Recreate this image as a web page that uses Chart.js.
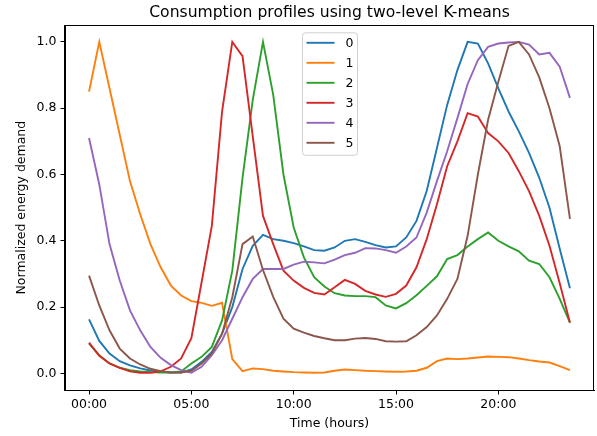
<!DOCTYPE html>
<html>
<head>
<meta charset="utf-8">
<script src="https://cdn.jsdelivr.net/npm/chart.js@4.4.1/dist/chart.umd.min.js"></script>
<style>
  html, body { margin: 0; padding: 0; background: #fff; }
  #wrap { width: 597px; height: 436px; }
</style>
</head>
<body>
<div id="wrap"><canvas id="c" width="597" height="436"></canvas></div>
<script>
// ---- data ----
const hours = [0,0.5,1,1.5,2,2.5,3,3.5,4,4.5,5,5.5,6,6.5,7,7.5,8,8.5,9,9.5,10,10.5,11,11.5,
               12,12.5,13,13.5,14,14.5,15,15.5,16,16.5,17,17.5,18,18.5,19,19.5,20,20.5,21,21.5,22,22.5,23,23.5];
const xTickValues = [0, 5, 10, 15, 20];
const xTickLabels = ['00:00', '05:00', '10:00', '15:00', '20:00'];
const yTickValues = [0, 0.2, 0.4, 0.6, 0.8, 1.0];
const seriesNames = ['0', '1', '2', '3', '4', '5'];
const seriesColors = ['#1f77b4', '#ff7f0e', '#2ca02c', '#d62728', '#9467bd', '#8c564b'];

const cluster0 = [0.163,0.098,0.060,0.037,0.024,0.015,0.009,0.005,0.003,0.003,0.012,0.035,0.065,0.120,0.200,0.315,0.385,0.418,
                  0.405,0.400,0.393,0.383,0.372,0.370,0.380,0.400,0.405,0.397,0.387,0.380,0.383,0.410,0.460,0.550,0.680,0.810,
                  0.915,1.000,0.995,0.935,0.860,0.790,0.730,0.665,0.590,0.500,0.376,0.257];
const cluster1 = [0.850,1.000,0.860,0.720,0.580,0.480,0.390,0.320,0.265,0.235,0.218,0.213,0.204,0.213,0.043,0.007,0.015,0.013,
                  0.008,0.006,0.004,0.003,0.002,0.003,0.008,0.012,0.010,0.008,0.007,0.006,0.005,0.006,0.008,0.017,0.037,0.045,
                  0.043,0.045,0.048,0.051,0.050,0.049,0.045,0.040,0.036,0.033,0.022,0.010];
const cluster2 = [0.090,0.055,0.030,0.017,0.010,0.006,0.004,0.003,0.003,0.006,0.030,0.050,0.080,0.160,0.310,0.590,0.825,1.000,
                  0.840,0.600,0.440,0.350,0.290,0.262,0.242,0.235,0.233,0.233,0.230,0.205,0.196,0.212,0.236,0.264,0.293,0.345,
                  0.357,0.383,0.405,0.425,0.400,0.383,0.368,0.340,0.330,0.290,0.225,0.153];
const cluster3 = [0.093,0.053,0.030,0.017,0.006,0.002,0.002,0.006,0.020,0.045,0.106,0.275,0.445,0.790,1.000,0.957,0.715,0.475,
                  0.390,0.310,0.280,0.258,0.243,0.238,0.260,0.282,0.270,0.249,0.238,0.231,0.240,0.265,0.320,0.405,0.510,0.625,
                  0.700,0.785,0.775,0.725,0.700,0.665,0.610,0.550,0.475,0.385,0.272,0.153];
const cluster4 = [0.710,0.570,0.390,0.280,0.190,0.130,0.080,0.047,0.025,0.010,0.002,0.020,0.055,0.100,0.165,0.230,0.285,0.315,
                  0.315,0.315,0.328,0.337,0.335,0.332,0.343,0.357,0.364,0.378,0.377,0.372,0.364,0.383,0.410,0.485,0.580,0.670,
                  0.770,0.873,0.945,0.985,0.995,0.998,1.000,0.992,0.962,0.967,0.925,0.831];
const cluster5 = [0.295,0.205,0.130,0.075,0.045,0.027,0.014,0.007,0.003,0.003,0.008,0.030,0.060,0.120,0.230,0.390,0.413,0.312,
                  0.231,0.165,0.135,0.123,0.113,0.106,0.100,0.100,0.105,0.107,0.104,0.097,0.096,0.097,0.115,0.140,0.175,0.225,
                  0.285,0.415,0.600,0.765,0.880,0.988,1.000,0.962,0.893,0.800,0.685,0.466];
const clusters = [cluster0, cluster1, cluster2, cluster3, cluster4, cluster5];

const titleText = 'Consumption profiles using two-level K-means';
const xAxisTitle = 'Time (hours)';
const yAxisTitle = 'Normalized energy demand';

// ---- chart ----
const FONT = "'DejaVu Sans', 'Liberation Sans', sans-serif";
Chart.defaults.font.family = FONT;
Chart.defaults.font.size = 12.5;
Chart.defaults.color = '#262626';

const datasets = clusters.map((vals, k) => ({
  label: seriesNames[k],
  data: hours.map((h, i) => ({ x: h, y: vals[i] })),
  borderColor: seriesColors[k],
  backgroundColor: seriesColors[k],
  borderWidth: 1.9,
  pointRadius: 0,
  tension: 0,
  fill: false,
  order: clusters.length - k
}));

const decor = {
  id: 'decor',
  beforeDraw(chart) {
    const ctx = chart.ctx;
    ctx.save();
    ctx.fillStyle = '#ffffff';
    ctx.fillRect(0, 0, chart.width, chart.height);
    ctx.restore();
  },
  afterDraw(chart) {
    const ctx = chart.ctx;
    const a = chart.chartArea;
    ctx.save();
    // frame (spines)
    ctx.strokeStyle = '#000';
    ctx.lineWidth = 1;
    ctx.strokeRect(Math.round(a.left) - 0.5, Math.round(a.top) + 0.5, Math.round(a.right - a.left), Math.round(a.bottom - a.top));
    // title
    ctx.fillStyle = '#000';
    ctx.font = '15.6px ' + FONT;
    ctx.textAlign = 'center';
    ctx.textBaseline = 'middle';
    ctx.fillText(titleText, (a.left + a.right) / 2, 12.5);
    // axis titles
    ctx.font = '12.5px ' + FONT;
    ctx.fillText(xAxisTitle, (a.left + a.right) / 2, 424);
    ctx.save();
    ctx.translate(22, (a.top + a.bottom) / 2);
    ctx.rotate(-Math.PI / 2);
    ctx.fillText(yAxisTitle, 0, 0);
    ctx.restore();
    // legend
    const bw = 55, bh = 122.5;
    const bx = (a.left + a.right) / 2 - bw / 2;
    const by = a.top + 7;
    ctx.beginPath();
    ctx.roundRect(bx + 0.5, by + 0.5, bw, bh, 3);
    ctx.fillStyle = 'rgba(255,255,255,0.8)';
    ctx.fill();
    ctx.strokeStyle = '#d0d0d0';
    ctx.lineWidth = 1;
    ctx.stroke();
    ctx.textAlign = 'left';
    ctx.textBaseline = 'middle';
    chart.data.datasets.forEach((ds, k) => {
      const yy = by + 10.5 + 20 * k;
      ctx.beginPath();
      ctx.moveTo(bx + 4.5, yy);
      ctx.lineTo(bx + 32.5, yy);
      ctx.strokeStyle = ds.borderColor;
      ctx.lineWidth = 1.9;
      ctx.stroke();
      ctx.fillStyle = '#000';
      ctx.fillText(ds.label, bx + 43.5, yy + 1);
    });
    ctx.restore();
  }
};

new Chart(document.getElementById('c'), {
  type: 'line',
  data: { datasets },
  options: {
    responsive: false,
    animation: false,
    devicePixelRatio: 1,
    layout: { padding: { top: 25.3, right: 3, left: 0, bottom: 0 } },
    plugins: { legend: { display: false }, tooltip: { enabled: false }, title: { display: false } },
    scales: {
      x: {
        type: 'linear',
        min: -1.175,
        max: 24.675,
        afterBuildTicks: (s) => { s.ticks = xTickValues.map(v => ({ value: v })); },
        afterFit: (s) => { s.height = 46; },
        ticks: {
          autoSkip: false,
          maxRotation: 0,
          padding: 3,
          color: '#000',
          font: { size: 12.5 },
          callback: (v, i) => xTickLabels[i]
        },
        grid: { display: true, drawOnChartArea: false, drawTicks: true, tickLength: 4.5, tickWidth: 1, tickColor: '#000' },
        border: { display: true, color: '#000', width: 1 }
      },
      y: {
        type: 'linear',
        min: -0.05,
        max: 1.05,
        afterBuildTicks: (s) => { s.ticks = yTickValues.map(v => ({ value: v })); },
        afterFit: (s) => { s.width = 65; },
        ticks: {
          padding: 4,
          color: '#000',
          font: { size: 12.5 },
          callback: (v) => Number(v).toFixed(1)
        },
        grid: { display: true, drawOnChartArea: false, drawTicks: true, tickLength: 4.5, tickWidth: 1, tickColor: '#000' },
        border: { display: true, color: '#000', width: 1 }
      }
    }
  },
  plugins: [decor]
});
</script>
</body>
</html>
